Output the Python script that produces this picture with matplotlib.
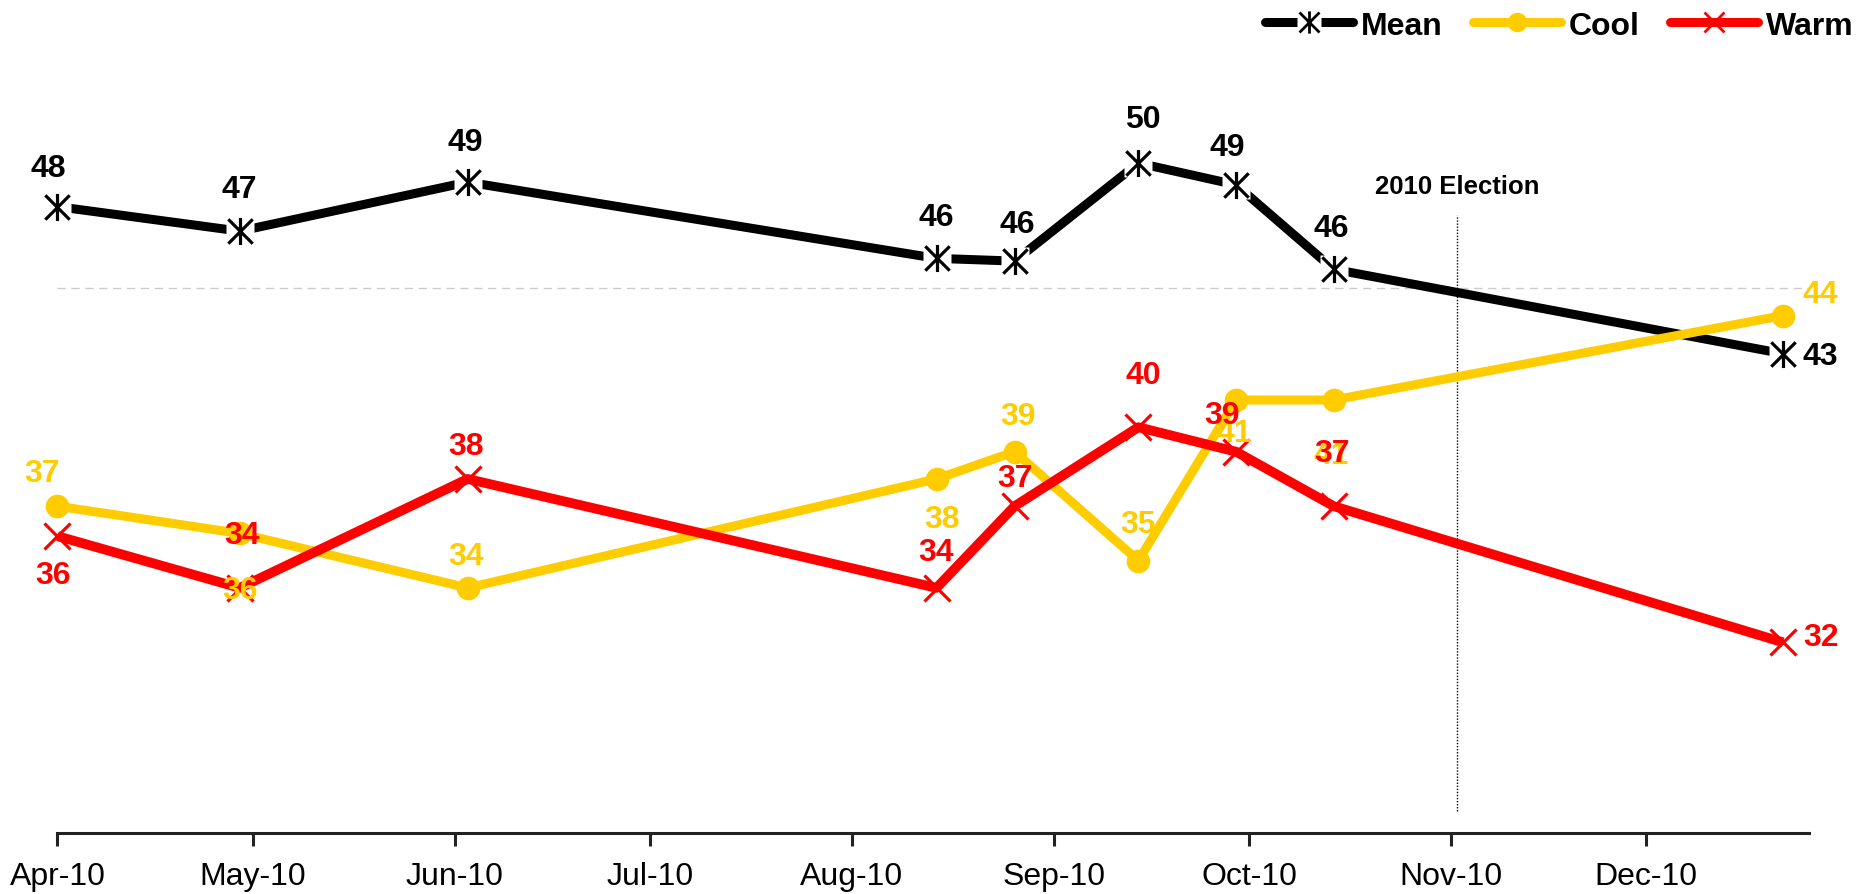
import matplotlib
matplotlib.use("Agg")
import matplotlib.pyplot as plt
import matplotlib.dates as mdates
from matplotlib.path import Path
from matplotlib.lines import Line2D
from matplotlib.legend_handler import HandlerTuple
import datetime as dt

# ---------------- data ----------------
dates = ["2010-04-01", "2010-04-29", "2010-06-03", "2010-08-14", "2010-08-26",
         "2010-09-14", "2010-09-29", "2010-10-14", "2010-12-22"]
mean_vals = [48.0, 47.1, 48.9, 46.1, 46.0, 49.6, 48.8, 45.7, 42.6]
cool_vals = [37.0, 36.0, 34.0, 38.0, 39.0, 35.0, 40.9, 40.9, 44.0]
warm_vals = [35.9, 34.0, 38.0, 34.0, 37.0, 39.9, 39.0, 37.0, 32.0]
series_names = ["Mean", "Cool", "Warm"]
tick_months = ["2010-04-01", "2010-05-01", "2010-06-01", "2010-07-01", "2010-08-01",
               "2010-09-01", "2010-10-01", "2010-11-01", "2010-12-01"]
election_date = "2010-11-02"
election_label = "2010 Election"
reference_level = 45

# ---------------- layout / style ----------------
# label offsets in pixels (dx, dy up)
mean_off = [(-9, 39), (-1, 42), (-2, 40), (0, 41), (3, 37), (4, 44), (-9, 38), (-2, 41), (20, -2)]
cool_off = [(-15, 33), (0, -57), (-2, 32), (6, -40), (3, 36), (0, 37), (-2, -33), (-2, -55), (20, 22)]
warm_off = [(-4, -39), (2, 53), (-2, 33), (0, 36), (0, 28), (5, 52), (-14, 37), (-2, 53), (20, 5)]

BLACK = "#000000"
YELLOW = "#FFCC00"
RED = "#FF0000"
FONT = "Liberation Sans"

x = [dt.datetime.strptime(d, "%Y-%m-%d") for d in dates]
ticks = [dt.datetime.strptime(d, "%Y-%m-%d") for d in tick_months]
elec = dt.datetime.strptime(election_date, "%Y-%m-%d")

fig = plt.figure(figsize=(18.6, 8.95), dpi=100)
ax = fig.add_axes([0.0309, 0.0682, 0.9417, 0.9128])
ax.set_xlim(dt.datetime(2010, 4, 1), dt.datetime(2010, 12, 26))
ax.set_ylim(25, 55)

# asterisk marker
star = Path([(0, -1), (0, 1), (-0.9, -0.9), (0.9, 0.9), (-0.9, 0.9), (0.9, -0.9)],
            [Path.MOVETO, Path.LINETO, Path.MOVETO, Path.LINETO, Path.MOVETO, Path.LINETO])

LW = 6.5
ax.axhline(reference_level, color="#cccccc", lw=1.0, ls=(0, (6, 4)), zorder=1)
ax.plot([elec, elec], [25.8, 47.7], color=BLACK, lw=1.0, ls=(0, (1, 1.2)), zorder=1)
ax.text(elec, 48.75, election_label, ha="center", va="center", fontsize=18.5,
        fontweight="bold", family=FONT, color=BLACK)

ax.plot(x, mean_vals, color=BLACK, lw=LW, solid_capstyle="butt", zorder=2, clip_on=False)
ax.plot(x, mean_vals, ls="none", marker="s", ms=20, mfc="white", mec="none", zorder=2.5,
        clip_on=False)
ax.plot(x, mean_vals, ls="none", marker=star, ms=19.5, mfc="none", mec=BLACK, mew=2.3,
        zorder=3, clip_on=False)

ax.plot(x, cool_vals, color=YELLOW, lw=LW, marker="o", ms=16, mfc=YELLOW, mec=YELLOW,
        solid_capstyle="butt", zorder=4, clip_on=False)
ax.plot(x, warm_vals, color=RED, lw=LW + 0.5, solid_capstyle="butt", zorder=5, clip_on=False)
ax.plot(x, warm_vals, ls="none", marker="x", ms=19, mec=RED, mew=2.3, zorder=5.5,
        clip_on=False)

def labels(vals, offs, color):
    n = len(vals)
    for i, (xi, v, (dx, dy)) in enumerate(zip(x, vals, offs)):
        ha = "left" if i == n - 1 else "center"
        ax.annotate(f"{round(v)}", (xi, v), xytext=(dx, dy), textcoords="offset pixels",
                    ha=ha, va="center", fontsize=23, fontweight="bold",
                    family=FONT, color=color, zorder=7, annotation_clip=False)

labels(mean_vals, mean_off, BLACK)
labels(cool_vals, cool_off, YELLOW)
labels(warm_vals, warm_off, RED)

# axes styling
for s in ["left", "right", "top"]:
    ax.spines[s].set_visible(False)
ax.spines["bottom"].set_linewidth(2.2)
ax.spines["bottom"].set_color("#222222")
ax.set_yticks([])
ax.set_xticks(ticks)
ax.xaxis.set_major_formatter(mdates.DateFormatter("%b-%y"))
ax.tick_params(axis="x", length=9, width=2.2, color="#222222", pad=11, labelsize=23)
for lab in ax.get_xticklabels():
    lab.set_family(FONT)

# legend
h_mean = (Line2D([], [], color=BLACK, lw=LW, solid_capstyle="round"),
          Line2D([], [], ls="none", marker="s", ms=17, mfc="white", mec="none"),
          Line2D([], [], ls="none", marker=star, ms=16, mfc="none", mec=BLACK, mew=2))
h_cool = Line2D([], [], color=YELLOW, lw=LW, marker="o", ms=13, solid_capstyle="round")
h_warm = (Line2D([], [], color=RED, lw=LW, solid_capstyle="round"),
          Line2D([], [], ls="none", marker="x", ms=15, mec=RED, mew=2))
leg = fig.legend([h_mean, h_cool, h_warm], series_names, loc="upper right",
                 bbox_to_anchor=(1.0085, 1.012), ncol=3, frameon=False,
                 handler_map={tuple: HandlerTuple(ndivide=1)},
                 prop={"family": FONT, "weight": "bold", "size": 23},
                 handlelength=2.75, handletextpad=0.25, columnspacing=0.95, borderaxespad=0.3)

fig.savefig("out.png", dpi=100)
